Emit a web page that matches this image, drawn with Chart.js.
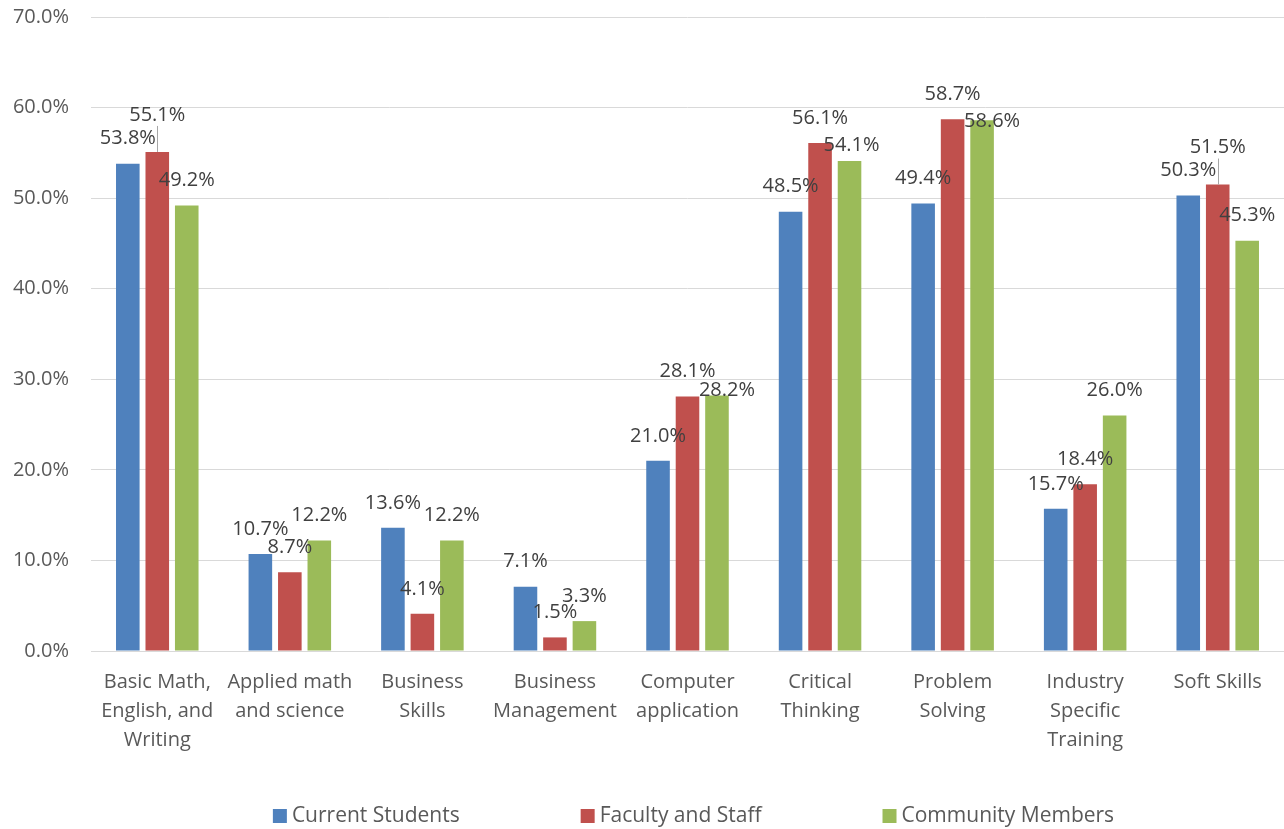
<!DOCTYPE html>
<html>
<head>
<meta charset="utf-8">
<script src="https://cdn.jsdelivr.net/npm/chart.js@4.4.1/dist/chart.umd.min.js"></script>
<style>
  html, body { margin: 0; background: #fff; }
  #wrap { width: 1284px; height: 829px; position: relative; }
</style>
</head>
<body>
<div id="wrap"><canvas id="chart"></canvas></div>
<script>
const categories = [
  ['Basic Math,', 'English, and', 'Writing'],
  ['Applied math', 'and science'],
  ['Business', 'Skills'],
  ['Business', 'Management'],
  ['Computer', 'application'],
  ['Critical', 'Thinking'],
  ['Problem', 'Solving'],
  ['Industry', 'Specific', 'Training'],
  ['Soft Skills']
];
const currentStudents  = [53.8, 10.7, 13.6, 7.1, 21.0, 48.5, 49.4, 15.7, 50.3];
const facultyAndStaff  = [55.1, 8.7, 4.1, 1.5, 28.1, 56.1, 58.7, 18.4, 51.5];
const communityMembers = [49.2, 12.2, 12.2, 3.3, 28.2, 54.1, 58.6, 26.0, 45.3];
const seriesNames = ['Current Students', 'Faculty and Staff', 'Community Members'];
const seriesColors = ['#4F81BD', '#C0504D', '#9BBB59'];
const yMax = 70;
const yStep = 10;

// a few labels are moved so they don't collide: [dx, dy, leader line]
const labelNudge = {
  '1-0': [0, -12, true],
  '1-8': [0, -12, true],
  '2-4': [10, 20],
  '2-5': [2, 9],
  '2-6': [10, 26]
};

const FONT = '"Open Sans", "Noto Sans", sans-serif';
const TEXT = '#595959';

const valueLabels = {
  id: 'valueLabels',
  afterDatasetsDraw(chart) {
    const ctx = chart.ctx;
    ctx.save();
    ctx.font = '20px ' + FONT;
    ctx.textAlign = 'center';
    ctx.textBaseline = 'middle';
    chart.data.datasets.forEach((ds, si) => {
      chart.getDatasetMeta(si).data.forEach((bar, i) => {
        const n = labelNudge[si + '-' + i] || [0, 0];
        const x = bar.x + n[0];
        const y = bar.y - 25 + n[1];
        if (n[2]) {
          ctx.strokeStyle = '#a6a6a6';
          ctx.lineWidth = 1;
          ctx.beginPath();
          ctx.moveTo(Math.round(bar.x) + 0.5, bar.y);
          ctx.lineTo(Math.round(bar.x) + 0.5, y + 11);
          ctx.stroke();
        }
        ctx.fillStyle = '#404040';
        ctx.fillText(ds.data[i].toFixed(1) + '%', x, y);
      });
    });
    ctx.restore();
  }
};

const bottomLegend = {
  id: 'bottomLegend',
  afterDraw(chart) {
    const ctx = chart.ctx;
    ctx.save();
    ctx.font = '21px ' + FONT;
    ctx.textBaseline = 'middle';
    const box = 14, textGap = 5, itemGap = 121;
    const widths = seriesNames.map(t => box + textGap + ctx.measureText(t).width);
    const total = widths.reduce((a, b) => a + b, 0) + itemGap * (widths.length - 1);
    const area = chart.chartArea;
    let x = (area.left + area.right) / 2 - total / 2 + 6;
    const y = 816;
    seriesNames.forEach((t, i) => {
      ctx.fillStyle = seriesColors[i];
      ctx.fillRect(x, y - box / 2, box, box);
      ctx.fillStyle = TEXT;
      ctx.fillText(t, x + box + textGap, y);
      x += widths[i] + itemGap;
    });
    ctx.restore();
  }
};

const seriesData = [currentStudents, facultyAndStaff, communityMembers];

new Chart(document.getElementById('chart'), {
  type: 'bar',
  data: {
    labels: categories,
    datasets: seriesData.map((d, i) => ({
      label: seriesNames[i],
      data: d,
      backgroundColor: seriesColors[i],
      borderWidth: 0,
      categoryPercentage: 0.667,
      barPercentage: 0.8
    }))
  },
  options: {
    responsive: true,
    maintainAspectRatio: false,
    animation: false,
    layout: { padding: { top: 17, right: 0, bottom: 60, left: 0 } },
    plugins: {
      legend: { display: false },
      tooltip: { enabled: false }
    },
    scales: {
      x: {
        grid: { display: false, drawTicks: false },
        border: { display: true, color: '#d9d9d9', width: 1 },
        ticks: {
          color: TEXT,
          font: { family: FONT, size: 20, lineHeight: 1.45 },
          padding: 17,
          maxRotation: 0,
          autoSkip: false
        },
        afterFit(scale) {
          scale.height = 118;
          scale.paddingTop = 0;
        }
      },
      y: {
        min: 0,
        max: yMax,
        grid: { color: '#d9d9d9', lineWidth: 1, drawTicks: false },
        border: { display: false },
        ticks: {
          stepSize: yStep,
          color: TEXT,
          font: { family: FONT, size: 20 },
          padding: 22,
          callback: v => v.toFixed(1) + '%'
        },
        afterFit(scale) {
          scale.width = 91;
          scale.paddingTop = 0;
          scale.paddingBottom = 0;
        }
      }
    }
  },
  plugins: [valueLabels, bottomLegend]
});
</script>
</body>
</html>
